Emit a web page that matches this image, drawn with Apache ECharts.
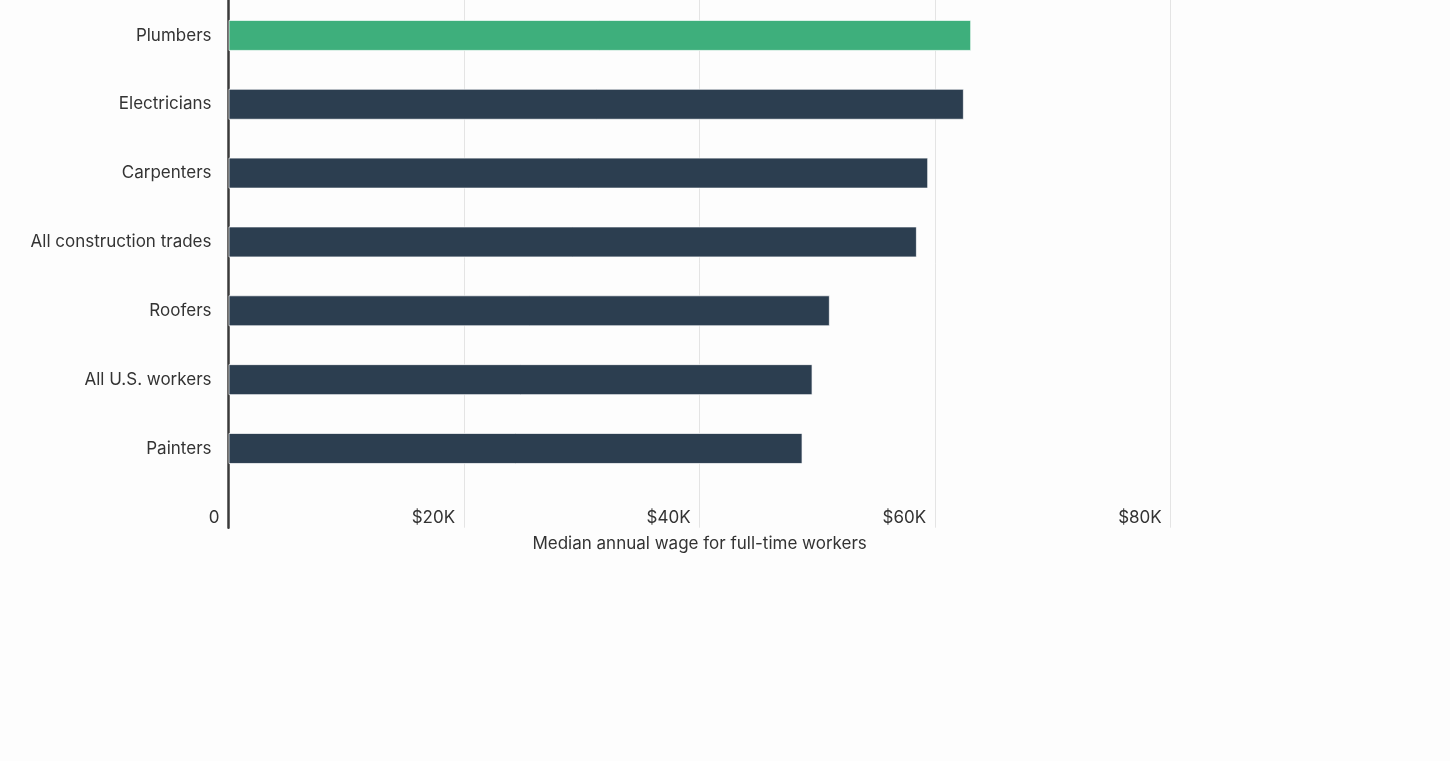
<!DOCTYPE html>
<html>
<head>
<meta charset="utf-8">
<script src="https://cdn.jsdelivr.net/npm/echarts@6/dist/echarts.min.js"></script>
<style>
html,body{margin:0;padding:0;background:#fdfdfd;}
#chart{width:1450px;height:761px;}
</style>
</head>
<body>
<div id="chart"></div>
<script>
const categories = ["Plumbers","Electricians","Carpenters","All construction trades","Roofers","All U.S. workers","Painters"];
const wages = [63060, 62440, 59410, 58450, 51060, 49590, 48740];
const highlighted = "Plumbers";
const tickValues = [0, 20000, 40000, 60000, 80000];
const tickLabels = ["0", "$20K", "$40K", "$60K", "$80K"];
const axisTitle = "Median annual wage for full-time workers";

const FONT = "Inter";
const chart = echarts.init(document.getElementById('chart'));
const labelFor = v => { const i = tickValues.indexOf(v); return i >= 0 ? tickLabels[i] : ''; };

chart.setOption({
  backgroundColor: '#fdfdfd',
  animation: false,
  grid: [
    { left: 228.5, right: 279.3, top: 1, bottom: 278.1, containLabel: false },
    { left: 228.5, right: 279.3, top: 0, bottom: 233.3, containLabel: false }
  ],
  xAxis: [
    {
      gridIndex: 0, type: 'value', min: 0, max: 80000, interval: 20000,
      axisLine: { show: false }, axisTick: { show: false }, splitLine: { show: false },
      axisLabel: {
        formatter: labelFor, color: '#333', fontSize: 17, fontFamily: FONT,
        align: 'right', padding: [0, 9, 0, 0], margin: 26
      }
    },
    {
      gridIndex: 1, type: 'value', min: 0, max: 80000, interval: 20000,
      axisLine: { show: false }, axisTick: { show: false },
      axisLabel: { show: false },
      splitLine: { show: true, lineStyle: { color: '#e4e4e4', width: 1 } },
      name: axisTitle, nameLocation: 'middle', nameGap: 8,
      nameTextStyle: { color: '#333', fontSize: 17, fontFamily: FONT, verticalAlign: 'top' }
    }
  ],
  yAxis: [
    {
      gridIndex: 0, type: 'category', data: categories, inverse: true,
      axisLine: { show: false }, axisTick: { show: false }, splitLine: { show: false },
      axisLabel: { color: '#333', fontSize: 17, fontFamily: FONT, margin: 17 }
    },
    {
      gridIndex: 1, type: 'value', min: 0, max: 1,
      axisLine: { show: true, lineStyle: { color: '#3a3a3a', width: 2.5 } },
      axisTick: { show: false }, axisLabel: { show: false }, splitLine: { show: false }
    }
  ],
  series: [
    {
      type: 'bar', xAxisIndex: 0, yAxisIndex: 0, barWidth: 31, z: 3,
      data: wages.map((v, i) => ({
        value: v,
        itemStyle: { color: categories[i] === highlighted ? '#3eaf7c' : '#2c3e50' }
      })),
      itemStyle: { borderColor: 'rgba(255,255,255,0.7)', borderWidth: 1 }
    },
    {
      type: 'line', xAxisIndex: 1, yAxisIndex: 1, data: [], silent: true
    }
  ]
});
</script>
</body>
</html>
